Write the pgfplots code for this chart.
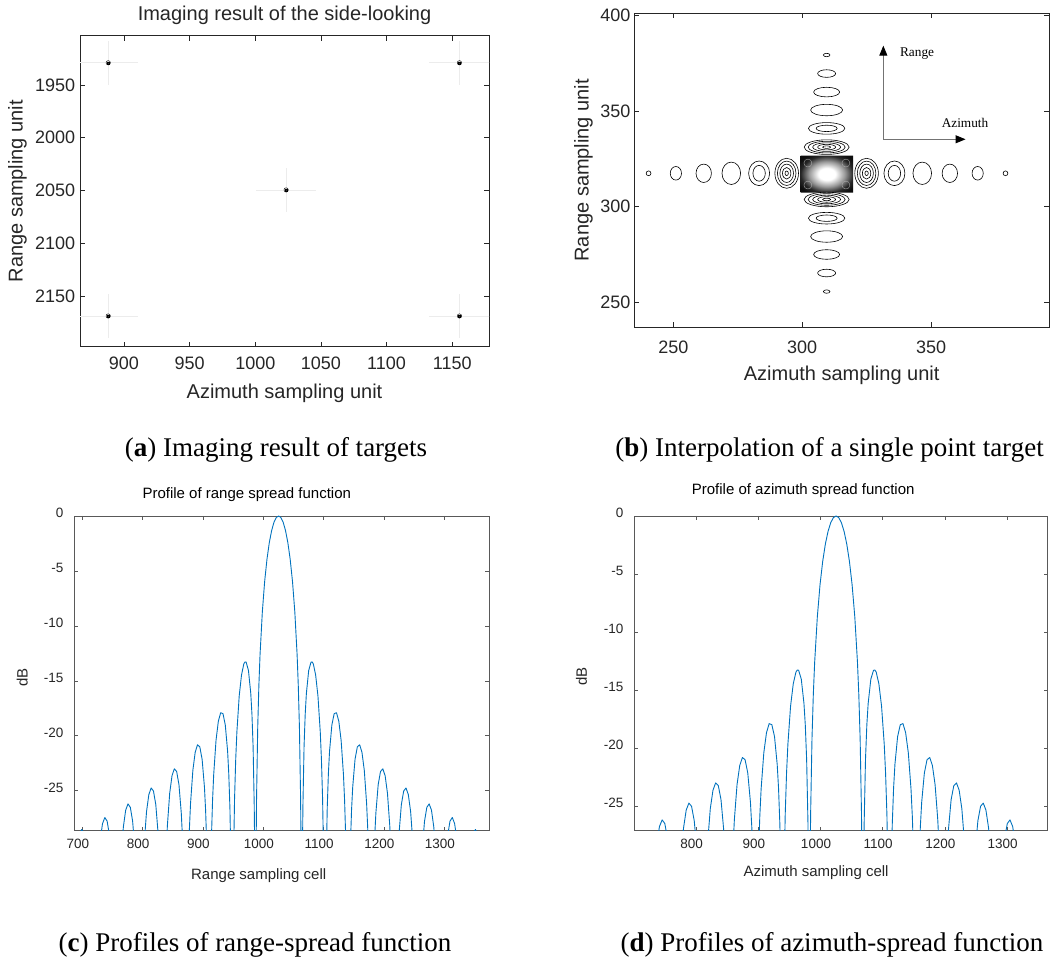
\documentclass[border=0pt]{standalone}
\usepackage{fontspec}
\setmainfont{Liberation Sans}
\newfontfamily\capfont{Liberation Serif}
\usepackage{pgfplots}
\pgfplotsset{compat=1.18}
\usepackage{pgfplotstable}
\usetikzlibrary{arrows.meta}
\definecolor{mblue}{RGB}{0,114,189}
\definecolor{axgray}{RGB}{38,38,38}

\pgfdeclareplotmark{ellring}{%
  \pgfpathellipse{\pgfpointorigin}{\pgfpoint{\myrx pt}{0pt}}{\pgfpoint{0pt}{\myry pt}}%
  \pgfusepathqstroke}
\pgfdeclareradialshading{blobshade}{\pgfpointorigin}{color(0bp)=(white); color(8bp)=(white); color(17bp)=(black!40); color(25bp)=(black!85); color(31bp)=(black!95); color(50bp)=(black!95)}
\pgfdeclareplotmark{blob}{%
  \pgfsetcornersarced{\pgfpoint{8pt}{8pt}}%
  \pgfpathmoveto{\pgfpoint{0pt}{-\myry pt}}%
  \pgfpathlineto{\pgfpoint{\myrx pt}{-\myry pt}}%
  \pgfpathlineto{\pgfpoint{\myrx pt}{\myry pt}}%
  \pgfpathlineto{\pgfpoint{-\myrx pt}{\myry pt}}%
  \pgfpathlineto{\pgfpoint{-\myrx pt}{-\myry pt}}%
  \pgfpathclose
  \pgfshadepath{blobshade}{0}%
  \pgfusepath{}%
  \pgfsetcornersarced{\pgfpointorigin}%
  \pgfsetlinewidth{0.35pt}\pgfsetstrokecolor{white!70!black}%
  \pgfpathellipse{\pgfpoint{-19pt}{-11pt}}{\pgfpoint{4pt}{0pt}}{\pgfpoint{0pt}{4pt}}%
  \pgfpathellipse{\pgfpoint{19pt}{-11pt}}{\pgfpoint{4pt}{0pt}}{\pgfpoint{0pt}{4pt}}%
  \pgfpathellipse{\pgfpoint{-19pt}{11pt}}{\pgfpoint{4pt}{0pt}}{\pgfpoint{0pt}{4pt}}%
  \pgfpathellipse{\pgfpoint{19pt}{11pt}}{\pgfpoint{4pt}{0pt}}{\pgfpoint{0pt}{4pt}}%
  \pgfusepath{stroke}}

\pgfplotsset{
  common/.style={
    scale only axis, anchor=south west, enlargelimits=false,
    axis line style={draw=axgray, line width=0.6pt},
    every tick/.style={draw=axgray, line width=0.6pt},
    tick align=inside, major tick length=5pt,
    /pgf/number format/assume math mode=true,
    /pgf/number format/1000 sep={},
  },
  big/.style={
    tick label style={font=\fontsize{18}{20}\selectfont, text=axgray},
    label style={font=\fontsize{20}{22}\selectfont, text=axgray},
    title style={font=\fontsize{20}{22}\selectfont, text=axgray},
  },
  small/.style={
    axis line style={draw=black!65, line width=0.6pt},
    every tick/.style={draw=black!65, line width=0.6pt},
    major tick length=4pt,
    tick label style={font=\fontsize{13.5}{15}\selectfont, text=axgray},
    label style={font=\fontsize{15}{17}\selectfont, text=axgray},
    title style={font=\fontsize{15}{17}\selectfont, text=black},
    xticklabel style={xshift=-4.5pt}, xticklabel shift=4.5pt,
    yticklabel style={yshift=3pt}, yticklabel shift=7pt,
  },
  ringplot/.style={
    scatter, only marks, black, line width=0.6pt,
    scatter/@pre marker code/.code={}, scatter/@post marker code/.code={},
    visualization depends on={\thisrow{rx}\as\myrx},
    visualization depends on={\thisrow{ry}\as\myry},
  },
}

\pgfplotstableread{
x y rx ry
309.6 317.1 26.3 18.5
}\blobdata

\pgfplotstableread{
x y rx ry
294.0 317.5 11.8 15.0
294.0 317.5 9.3 12.2
294.0 317.5 6.8 9.2
294.0 317.5 4.2 5.8
294.0 317.5 1.7 2.3
325.0 317.5 11.8 15.0
325.0 317.5 9.3 12.2
325.0 317.5 6.8 9.2
325.0 317.5 4.2 5.8
325.0 317.5 1.7 2.3
283.3 317.5 10.5 12.3
283.3 317.5 6.2 7.9
335.8 317.5 10.5 12.3
335.8 317.5 6.2 7.9
272.5 317.5 9.3 11.2
346.6 317.5 9.3 11.2
261.8 317.5 7.7 9.2
357.3 317.5 7.7 9.2
251.0 317.5 5.6 6.8
368.1 317.5 5.6 6.8
240.4 317.5 2.4 2.4
378.9 317.5 2.4 2.4
309.5 331.2 22.5 7.3
309.5 331.2 18.5 5.8
309.5 331.2 14.0 4.3
309.5 331.2 9.0 2.8
309.5 331.2 4.0 1.3
309.5 303.8 22.5 7.3
309.5 303.8 18.5 5.8
309.5 303.8 14.0 4.3
309.5 303.8 9.0 2.8
309.5 303.8 4.0 1.3
309.5 341.0 18.2 5.8
309.5 341.0 10.5 3.2
309.5 294.0 18.2 5.8
309.5 294.0 10.5 3.2
309.5 350.6 16.0 5.7
309.5 284.4 16.0 5.7
309.5 360.0 13.0 4.8
309.5 275.0 13.0 4.8
309.5 369.7 9.0 3.8
309.5 265.3 9.0 3.8
309.5 379.4 3.3 1.7
309.5 255.6 3.3 1.7
}\ringdata

\pgfplotstableread{
x y
679.7 -60
691.22 -31.0
695.06 -29.07
698.9 -28.53
702.74 -28.87
706.58 -31.0
718.1 -60
725.78 -32.4
729.62 -29.51
733.46 -28.00
737.3 -27.44
741.14 -27.77
744.98 -29.05
748.82 -31.71
756.5 -60
764.18 -31.21
768.02 -28.30
771.86 -26.77
775.7 -26.20
779.54 -26.51
783.38 -27.77
787.22 -30.41
794.9 -60
802.58 -29.83
806.42 -26.90
810.26 -25.35
814.1 -24.75
817.94 -25.03
821.78 -26.27
825.62 -28.88
827.54 -31.04
833.3 -60
839.06 -30.52
840.98 -28.19
844.82 -25.23
848.66 -23.64
852.5 -23.01
856.34 -23.25
860.18 -24.45
864.02 -27.03
865.94 -29.16
867.86 -32.40
871.7 -60
875.54 -31.96
877.46 -28.51
879.38 -26.16
883.22 -23.15
887.06 -21.51
890.9 -20.82
894.74 -21.01
898.58 -22.15
902.42 -24.67
904.34 -26.77
906.26 -29.97
910.1 -60
912.02 -35.45
913.94 -29.39
915.86 -25.90
917.78 -23.51
921.62 -20.41
925.46 -18.68
929.3 -17.90
933.14 -17.99
936.98 -19.02
940.82 -21.41
942.74 -23.45
944.66 -26.59
946.58 -32.29
948.5 -60
950.42 -31.85
952.34 -25.72
954.26 -22.15
956.18 -19.67
960.02 -16.39
963.86 -14.47
967.7 -13.46
969.62 -13.28
971.54 -13.30
975.38 -14.06
979.22 -16.15
981.14 -18.02
983.06 -20.97
984.98 -26.48
985.75 -30.73
986.9 -60
988.05 -30.2
988.82 -25.61
990.74 -19.23
992.66 -15.39
994.58 -12.62
998.42 -8.69
1002.26 -5.94
1006.1 -3.92
1009.94 -2.42
1013.78 -1.33
1017.62 -0.58
1021.46 -0.14
1025.3 0
1029.14 -0.14
1032.98 -0.58
1036.82 -1.33
1040.66 -2.42
1044.5 -3.92
1048.34 -5.94
1052.18 -8.69
1056.02 -12.62
1057.94 -15.39
1059.86 -19.23
1061.78 -25.61
1062.55 -30.2
1063.7 -60
1064.85 -30.73
1065.62 -26.48
1067.54 -20.97
1069.46 -18.02
1071.38 -16.15
1075.22 -14.06
1079.06 -13.30
1080.98 -13.28
1082.9 -13.46
1086.74 -14.47
1090.58 -16.39
1094.42 -19.67
1096.34 -22.15
1098.26 -25.72
1100.18 -31.85
1102.1 -60
1104.02 -32.29
1105.94 -26.59
1107.86 -23.45
1109.78 -21.41
1113.62 -19.02
1117.46 -17.99
1121.3 -17.90
1125.14 -18.68
1128.98 -20.41
1132.82 -23.51
1134.74 -25.90
1136.66 -29.39
1138.58 -35.45
1140.5 -60
1144.34 -29.97
1146.26 -26.77
1148.18 -24.67
1152.02 -22.15
1155.86 -21.01
1159.7 -20.82
1163.54 -21.51
1167.38 -23.15
1171.22 -26.16
1173.14 -28.51
1175.06 -31.96
1178.9 -60
1182.74 -32.40
1184.66 -29.16
1186.58 -27.03
1190.42 -24.45
1194.26 -23.25
1198.1 -23.01
1201.94 -23.64
1205.78 -25.23
1209.62 -28.19
1211.54 -30.52
1217.3 -60
1223.06 -31.04
1224.98 -28.88
1228.82 -26.27
1232.66 -25.03
1236.5 -24.75
1240.34 -25.35
1244.18 -26.90
1248.02 -29.83
1255.7 -60
1263.38 -30.41
1267.22 -27.77
1271.06 -26.51
1274.9 -26.20
1278.74 -26.77
1282.58 -28.30
1286.42 -31.21
1294.1 -60
1301.78 -31.71
1305.62 -29.05
1309.46 -27.77
1313.3 -27.44
1317.14 -28.00
1320.98 -29.51
1324.82 -32.4
1332.5 -60
1344.02 -31.0
1347.86 -28.87
1351.7 -28.53
1355.54 -29.07
1359.38 -31.0
1370.9 -60
}\rangedata

\pgfplotstableread{
x y
724 -60
732.6 -31.21
736.9 -28.30
741.2 -26.77
745.5 -26.20
749.8 -26.51
754.1 -27.77
758.4 -30.41
767 -60
775.6 -29.83
779.9 -26.90
784.2 -25.35
788.5 -24.75
792.8 -25.03
797.1 -26.27
801.4 -28.88
803.55 -31.04
810 -60
816.45 -30.52
818.6 -28.19
822.9 -25.23
827.2 -23.64
831.5 -23.01
835.8 -23.25
840.1 -24.45
844.4 -27.03
846.55 -29.16
848.7 -32.40
853 -60
857.3 -31.96
859.45 -28.51
861.6 -26.16
865.9 -23.15
870.2 -21.51
874.5 -20.82
878.8 -21.01
883.1 -22.15
887.4 -24.67
889.55 -26.77
891.7 -29.97
896 -60
898.15 -35.45
900.3 -29.39
902.45 -25.90
904.6 -23.51
908.9 -20.41
913.2 -18.68
917.5 -17.90
921.8 -17.99
926.1 -19.02
930.4 -21.41
932.55 -23.45
934.7 -26.59
936.85 -32.29
939 -60
941.15 -31.85
943.3 -25.72
945.45 -22.15
947.6 -19.67
951.9 -16.39
956.2 -14.47
960.5 -13.46
962.65 -13.28
964.8 -13.30
969.1 -14.06
973.4 -16.15
975.55 -18.02
977.7 -20.97
979.85 -26.48
980.71 -30.73
982 -60
983.29 -30.2
984.15 -25.61
986.3 -19.23
988.45 -15.39
990.6 -12.62
994.9 -8.69
999.2 -5.94
1003.5 -3.92
1007.8 -2.42
1012.1 -1.33
1016.4 -0.58
1020.7 -0.14
1025 0
1029.3 -0.14
1033.6 -0.58
1037.9 -1.33
1042.2 -2.42
1046.5 -3.92
1050.8 -5.94
1055.1 -8.69
1059.4 -12.62
1061.55 -15.39
1063.7 -19.23
1065.85 -25.61
1066.71 -30.2
1068 -60
1069.29 -30.73
1070.15 -26.48
1072.3 -20.97
1074.45 -18.02
1076.6 -16.15
1080.9 -14.06
1085.2 -13.30
1087.35 -13.28
1089.5 -13.46
1093.8 -14.47
1098.1 -16.39
1102.4 -19.67
1104.55 -22.15
1106.7 -25.72
1108.85 -31.85
1111 -60
1113.15 -32.29
1115.3 -26.59
1117.45 -23.45
1119.6 -21.41
1123.9 -19.02
1128.2 -17.99
1132.5 -17.90
1136.8 -18.68
1141.1 -20.41
1145.4 -23.51
1147.55 -25.90
1149.7 -29.39
1151.85 -35.45
1154 -60
1158.3 -29.97
1160.45 -26.77
1162.6 -24.67
1166.9 -22.15
1171.2 -21.01
1175.5 -20.82
1179.8 -21.51
1184.1 -23.15
1188.4 -26.16
1190.55 -28.51
1192.7 -31.96
1197 -60
1201.3 -32.40
1203.45 -29.16
1205.6 -27.03
1209.9 -24.45
1214.2 -23.25
1218.5 -23.01
1222.8 -23.64
1227.1 -25.23
1231.4 -28.19
1233.55 -30.52
1240 -60
1246.45 -31.04
1248.6 -28.88
1252.9 -26.27
1257.2 -25.03
1261.5 -24.75
1265.8 -25.35
1270.1 -26.90
1274.4 -29.83
1283 -60
1291.6 -30.41
1295.9 -27.77
1300.2 -26.51
1304.5 -26.20
1308.8 -26.77
1313.1 -28.30
1317.4 -31.21
1326 -60
}\azidata

\begin{document}
\begin{tikzpicture}
\useasboundingbox (0pt,0pt) rectangle (1055pt,969pt);

% (a)
\begin{axis}[common, big, at={(80pt,622.3pt)}, width=409pt, height=311pt,
  xmin=866.5, xmax=1178, ymin=1903.3, ymax=2198.1, y dir=reverse,
  xtick={900,950,1000,1050,1100,1150}, ytick={1950,2000,2050,2100,2150},
  xticklabel shift=7pt, yticklabel shift=1.3pt,
  title={Imaging result of the side-looking},
  title style={at={(axis description cs:0.5,1.031)}, anchor=base},
  xlabel={Azimuth sampling unit}, ylabel={Range sampling unit},
  xlabel style={at={(axis description cs:0.5,-0.168)}, anchor=base},
  ylabel style={at={(axis description cs:-0.153,0.5)}, anchor=center}]
\addplot[only marks, mark=*, mark size=2.2pt, mark options={draw=none, fill=gray!25}]
  coordinates {(888,1929) (1155.5,1929) (1023.5,2049.5) (888,2169) (1155.5,2169)};
\addplot[only marks, mark=square*, mark size=0.9pt, mark options={draw=none, fill=black!80},
  error bars/.cd, x dir=both, x fixed=23, y dir=both, y fixed=21, error mark=none,
  error bar style={draw=gray!15, line width=0.8pt}]
  coordinates {(888,1929) (1155.5,1929) (1023.5,2049.5) (888,2169) (1155.5,2169)};
\end{axis}

% (b)
\begin{axis}[common, big, at={(634pt,641.7pt)}, width=415.3pt, height=314pt,
  xmin=234.75, xmax=395.9, ymin=236.9, ymax=401.24,
  xtick={250,300,350}, ytick={250,300,350,400},
  xticklabel shift=10pt,
  xlabel={Azimuth sampling unit}, ylabel={Range sampling unit},
  xlabel style={at={(axis description cs:0.5,-0.168)}, anchor=base},
  ylabel style={at={(axis description cs:-0.122,0.5)}, anchor=center}]
\addplot[ringplot, mark=blob] table[x=x, y=y] {\blobdata};
\addplot[ringplot, mark=ellring] table[x=x, y=y] {\ringdata};
\draw[black!55, line width=0.9pt, -{Triangle[length=10pt, width=8pt, color=black]}]
  (axis cs:331.5,335.3) -- (axis cs:331.5,384.3);
\draw[black!55, line width=0.9pt, -{Triangle[length=10pt, width=8pt, color=black]}]
  (axis cs:331.5,335.3) -- (axis cs:363.4,335.3);
\node[font=\capfont\fontsize{13.3}{15}\selectfont] at (axis cs:344.6,380.0) {Range};
\node[font=\capfont\fontsize{13.3}{15}\selectfont] at (axis cs:363.2,343.6) {Azimuth};
\end{axis}

% (c)
\begin{axis}[common, small, at={(74pt,138.3pt)}, width=415.3pt, height=314.7pt,
  xmin=686.2, xmax=1374.6, ymin=-28.64, ymax=0,
  xtick={700,800,900,1000,1100,1200,1300}, ytick={-25,-20,-15,-10,-5,0},
  title={Profile of range spread function},
  title style={at={(axis description cs:0.416,1.038)}, anchor=base},
  xlabel={Range sampling cell}, ylabel={dB},
  xlabel style={at={(axis description cs:0.4447,-0.154)}, anchor=base},
  ylabel style={at={(axis description cs:-0.1245,0.486)}, anchor=center}]
\addplot[mblue, line width=0.9pt, no marks, line join=round] table[x=x, y=y] {\rangedata};
\end{axis}

% (d)
\begin{axis}[common, small, at={(634pt,138.3pt)}, width=413.7pt, height=314.7pt,
  xmin=700.3, xmax=1365.1, ymin=-27.13, ymax=0,
  xtick={800,900,1000,1100,1200,1300}, ytick={-25,-20,-15,-10,-5,0},
  title={Profile of azimuth spread function},
  title style={at={(axis description cs:0.409,1.048)}, anchor=base},
  xlabel={Azimuth sampling cell}, ylabel={dB},
  xlabel style={at={(axis description cs:0.44,-0.144)}, anchor=base},
  ylabel style={at={(axis description cs:-0.127,0.489)}, anchor=center}]
\addplot[mblue, line width=0.9pt, no marks, line join=round] table[x=x, y=y] {\azidata};
\end{axis}

% captions
\node[anchor=base, font=\capfont\fontsize{27}{30}\selectfont] at (276pt,512.3pt) {(\textbf{a}) Imaging result of targets};
\node[anchor=base, font=\capfont\fontsize{27}{30}\selectfont] at (829.5pt,512.3pt) {(\textbf{b}) Interpolation of a single point target};
\node[anchor=base, font=\capfont\fontsize{27}{30}\selectfont] at (255pt,17.3pt) {(\textbf{c}) Profiles of range-spread function};
\node[anchor=base, font=\capfont\fontsize{27}{30}\selectfont] at (832pt,17.3pt) {(\textbf{d}) Profiles of azimuth-spread function};
\end{tikzpicture}
\end{document}
